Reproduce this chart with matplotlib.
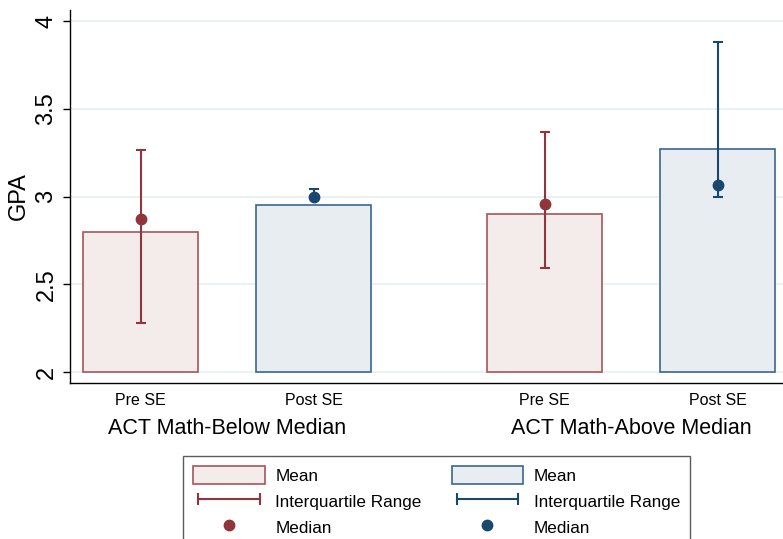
import matplotlib
matplotlib.use("Agg")
import matplotlib.pyplot as plt
from matplotlib.patches import Patch
from matplotlib.lines import Line2D
from matplotlib.legend_handler import HandlerLine2D

# ---- data ----
bar_labels = ["Pre SE", "Post SE", "Pre SE", "Post SE"]
group_labels = ["ACT Math-Below Median", "ACT Math-Above Median"]
means = [2.80, 2.95, 2.90, 3.27]
medians = [2.87, 3.00, 2.955, 3.065]
q1 = [2.28, 2.99, 2.59, 3.00]
q3 = [3.265, 3.045, 3.37, 3.88]
series = ["pre", "post", "pre", "post"]
yticks = [2, 2.5, 3, 3.5, 4]
ytick_labels = ["2", "2.5", "3", "3.5", "4"]

# ---- style ----
red = "#90353B"
red_edge = "#A8555A"
red_fill = "#F4EBEB"
blue = "#1A476F"
blue_edge = "#3A6690"
blue_fill = "#E8EDF1"
line_col = {"pre": red, "post": blue}
edge_col = {"pre": red_edge, "post": blue_edge}
fill_col = {"pre": red_fill, "post": blue_fill}

plt.rcParams["font.family"] = ["Liberation Sans", "DejaVu Sans"]

positions = [1.0, 2.0, 3.335, 4.335]
width = 0.665

fig = plt.figure(figsize=(7.83, 5.39), dpi=100)
ax = fig.add_axes([70 / 783, 1 - 383 / 539, 1 - 70 / 783, (383 - 10) / 539])

for x, m, md, lo, hi, s in zip(positions, means, medians, q1, q3, series):
    ax.bar(x, m - 2, bottom=2, width=width, color=fill_col[s],
           edgecolor=edge_col[s], linewidth=1.2, zorder=2)
    ax.errorbar(x, md, yerr=[[md - lo], [hi - md]], fmt="o", color=line_col[s],
                ecolor=line_col[s], elinewidth=1.5, capsize=3.6, capthick=1.5,
                markersize=7.5, zorder=3)

ax.set_ylim(1.9373, 4.0627)
ax.set_xlim(0.592, 4.711)
ax.set_yticks(yticks)
ax.set_yticklabels(ytick_labels, rotation=90, va="center", fontsize=17)
ax.tick_params(axis="y", direction="out", length=5, width=1, pad=4)
ax.yaxis.grid(True, color="#E6EEF1", linewidth=1.2, zorder=0)
ax.set_axisbelow(True)
ax.set_xticks(positions)
ax.set_xticklabels(bar_labels, fontsize=11.5)
ax.tick_params(axis="x", length=0, pad=7)
ax.set_ylabel("GPA", fontsize=17, labelpad=4)

for sp in ["top", "right"]:
    ax.spines[sp].set_visible(False)
for sp in ["left", "bottom"]:
    ax.spines[sp].set_linewidth(1.0)

# group labels
for i, g in enumerate(group_labels):
    cx = (positions[2 * i] + positions[2 * i + 1]) / 2
    ax.text(cx, -0.122, g, transform=ax.get_xaxis_transform(),
            ha="center", va="center", fontsize=15.5)

# legend
h_mean_r = Patch(facecolor=red_fill, edgecolor=red_edge, linewidth=1.2)
h_mean_b = Patch(facecolor=blue_fill, edgecolor=blue_edge, linewidth=1.2)
h_iqr_r = Line2D([0, 1], [0, 0], color=red, lw=1.5, marker="|", markersize=8, markeredgewidth=1.5)
h_iqr_b = Line2D([0, 1], [0, 0], color=blue, lw=1.5, marker="|", markersize=8, markeredgewidth=1.5)
h_med_r = Line2D([], [], color=red, lw=0, marker="o", markersize=7.5)
h_med_b = Line2D([], [], color=blue, lw=0, marker="o", markersize=7.5)

handles = [h_mean_r, h_iqr_r, h_med_r, h_mean_b, h_iqr_b, h_med_b]
labels = ["Mean", "Interquartile Range", "Median", "Mean", "Interquartile Range", "Median"]
leg = fig.legend(handles, labels, ncol=2, loc="upper left",
                 bbox_to_anchor=(183 / 783, 1 - 456 / 539),
                 fontsize=12.3, frameon=True, fancybox=False, edgecolor="#333333",
                 handlelength=4.2, handleheight=1.25, handletextpad=0.6,
                 columnspacing=1.75, labelspacing=0.45, borderpad=0.6,
                 borderaxespad=0,
                 handler_map={h_iqr_r: HandlerLine2D(numpoints=2),
                              h_iqr_b: HandlerLine2D(numpoints=2),
                              h_med_r: HandlerLine2D(numpoints=1),
                              h_med_b: HandlerLine2D(numpoints=1)})
leg.get_frame().set_linewidth(1.0)

fig.savefig("out.png", dpi=100)
